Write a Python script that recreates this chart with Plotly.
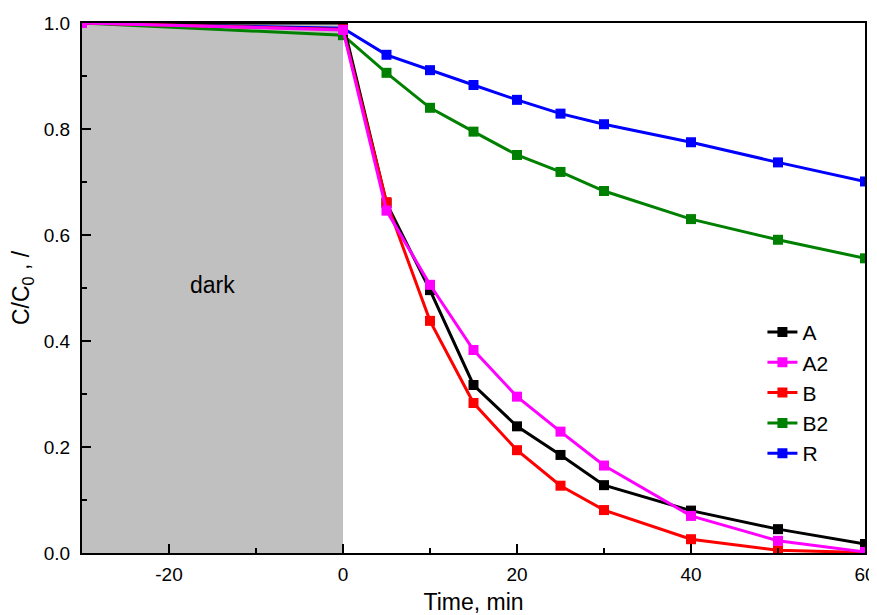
import plotly.graph_objects as go

time = [-30, 0, 5, 10, 15, 20, 25, 30, 40, 50, 60]

a = [1.0, 1.0, 0.660, 0.496, 0.317, 0.239, 0.185, 0.128, 0.080, 0.045, 0.017]
a2 = [1.0, 0.987, 0.646, 0.506, 0.383, 0.295, 0.229, 0.165, 0.070, 0.023, 0.002]
b = [1.0, 0.988, 0.662, 0.438, 0.283, 0.194, 0.127, 0.081, 0.026, 0.005, 0.001]
b2 = [1.0, 0.977, 0.906, 0.840, 0.795, 0.751, 0.719, 0.683, 0.630, 0.591, 0.556]
r = [1.0, 0.990, 0.940, 0.911, 0.883, 0.855, 0.829, 0.809, 0.775, 0.737, 0.701]

x_ticks = [-20, 0, 20, 40, 60]
x_ticktext = ["-20", "0", "20", "40", "60"]

dark_start, dark_end = -30, 0

font = "Liberation Sans, Arial, Helvetica, sans-serif"

fig = go.Figure()

# shaded dark period
fig.add_shape(type="rect", x0=dark_start, x1=dark_end, y0=0, y1=1,
              xref="x", yref="y", fillcolor="#c0c0c0", line_width=0, layer="below")
fig.add_annotation(x=-15, y=0.505, text="dark", showarrow=False,
                   font=dict(size=23, color="black", family=font))

# draw order differs from legend order (magenta sits on top)
series = [
    ("R", r, "#0000ff", 5),
    ("B2", b2, "#008000", 4),
    ("A", a, "#000000", 1),
    ("B", b, "#ff0000", 3),
    ("A2", a2, "#ff00ff", 2),
]
for name, vals, col, rank in series:
    fig.add_trace(go.Scatter(
        x=time, y=vals, name=name, mode="lines+markers",
        line=dict(color=col, width=3),
        marker=dict(symbol="square", size=10, color=col),
        legendrank=rank,
    ))

# page body has an 8px margin, so the figure is a bit smaller than the window
fig.update_layout(
    width=869, height=607,
    margin=dict(l=74, r=12, t=15, b=62),
    paper_bgcolor="white", plot_bgcolor="white",
    font=dict(family=font, size=19, color="black"),
    showlegend=True,
    legend=dict(x=0.869, y=0.455, xanchor="left", yanchor="top",
                bgcolor="rgba(0,0,0,0)", font=dict(size=21, family=font),
                tracegroupgap=0, itemwidth=30),
)

fig.update_xaxes(
    range=[-30, 60], tickmode="array", tickvals=x_ticks, ticktext=x_ticktext,
    tickfont=dict(size=19, family=font), ticklabelstandoff=3,
    showgrid=False, zeroline=False, automargin=False,
    showline=True, linecolor="black", linewidth=2, mirror=True,
    ticks="inside", ticklen=9, tickwidth=2, tickcolor="black",
    minor=dict(ticks="inside", ticklen=5, tickwidth=2, dtick=10, tickcolor="black"),
    title=dict(text="Time, min", font=dict(size=23, family=font), standoff=12),
)
fig.update_yaxes(
    range=[0, 1.0], dtick=0.2, tickformat=".1f",
    tickfont=dict(size=19, family=font), ticklabelstandoff=6,
    showgrid=False, zeroline=False, automargin=False,
    showline=True, linecolor="black", linewidth=2, mirror=True,
    ticks="inside", ticklen=9, tickwidth=2, tickcolor="black",
    minor=dict(ticks="inside", ticklen=5, tickwidth=2, dtick=0.1, tickcolor="black"),
    title=dict(text="C/C<sub>0</sub> , /", font=dict(size=23, family=font), standoff=12),
)

fig.write_html("out.html")
